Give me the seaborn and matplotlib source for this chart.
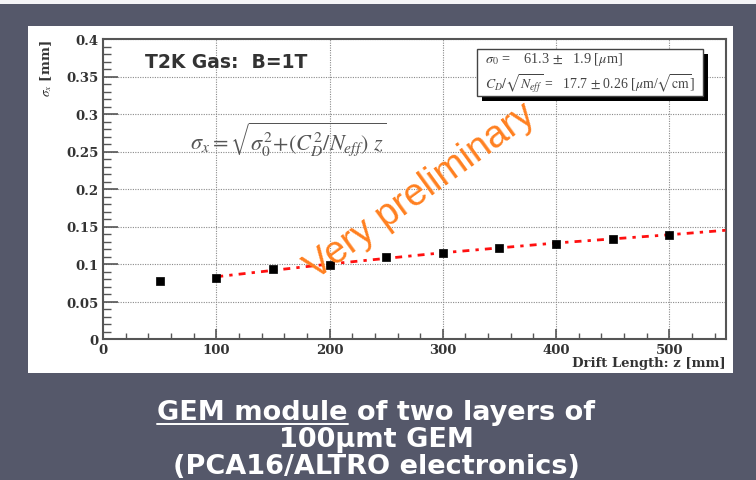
import matplotlib
matplotlib.use("Agg")
import matplotlib.pyplot as plt
from matplotlib.patches import Rectangle
from matplotlib.lines import Line2D
from matplotlib.ticker import MultipleLocator
import seaborn as sns
import pandas as pd

# ---- data ----
drift_z = [50, 100, 150, 200, 250, 300, 350, 400, 450, 500]
sigma_x = [0.077, 0.082, 0.093, 0.099, 0.109, 0.1143, 0.1213, 0.1267, 0.133, 0.139]
fit_z = [100, 200, 300, 400, 500, 550]
fit_sigma = [0.083, 0.100, 0.115, 0.128, 0.139, 0.145]
x_ticks = [0, 100, 200, 300, 400, 500]
y_ticks = [0, 0.05, 0.1, 0.15, 0.2, 0.25, 0.3, 0.35, 0.4]
y_tick_labels = ["0", "0.05", "0.1", "0.15", "0.2", "0.25", "0.3", "0.35", "0.4"]

pts = pd.DataFrame({"z": drift_z, "sigma": sigma_x})
fit = pd.DataFrame({"z": fit_z, "sigma": fit_sigma})

sns.set_theme(style="ticks")
plt.rcParams["mathtext.fontset"] = "stix"
plt.rcParams["font.family"] = ["DejaVu Sans"]

W, H = 756, 481
BG = "#55586a"
fig = plt.figure(figsize=(W / 100, H / 100), dpi=100, facecolor=BG)

def fx(px):
    return px / W

def fy(py):
    return 1 - py / H

# top light strip and white panel
fig.patches.append(Rectangle((0, fy(5)), 1, 5 / H, transform=fig.transFigure,
                             facecolor="#f4f4f6", edgecolor="none", zorder=0))
fig.patches.append(Rectangle((fx(28), fy(374)), (733 - 28) / W, (374 - 27) / H,
                             transform=fig.transFigure, facecolor="white",
                             edgecolor="none", zorder=0))

ax = fig.add_axes([fx(103), fy(340), (726 - 103) / W, 300 / H])
ax.set_facecolor("white")
ax.set_zorder(1)

sns.lineplot(data=fit, x="z", y="sigma", ax=ax, color="#ff1010", lw=2.0,
             linestyle=(0, (2.5, 2.2, 1.2, 2.2)), zorder=3)
sns.scatterplot(data=pts, x="z", y="sigma", ax=ax, marker="s", s=30,
                color="black", edgecolor="black", linewidth=0.5, zorder=4)

ax.set_xlim(0, 550)
ax.set_ylim(0, 0.4)
ax.set_xticks(x_ticks)
ax.set_xticklabels([str(v) for v in x_ticks])
ax.set_yticks(y_ticks)
ax.set_yticklabels(y_tick_labels)
ax.xaxis.set_minor_locator(MultipleLocator(20))
ax.yaxis.set_minor_locator(MultipleLocator(0.01))

for lab in ax.get_xticklabels() + ax.get_yticklabels():
    lab.set_fontfamily("DejaVu Serif")
    lab.set_fontweight("bold")
    lab.set_fontsize(9.5)
    lab.set_color("#333333")

ax.tick_params(axis="y", which="major", direction="in", length=11, width=1.2,
               color="#555555", pad=3)
ax.tick_params(axis="y", which="minor", direction="in", length=6, width=1.0,
               color="#555555")
ax.tick_params(axis="x", which="major", direction="in", length=7, width=1.2,
               color="#555555", pad=3)
ax.tick_params(axis="x", which="minor", direction="in", length=4, width=1.0,
               color="#555555")
for s in ax.spines.values():
    s.set_visible(True)
    s.set_color("#555555")
    s.set_linewidth(1.5)

ax.grid(True, which="major", color="#8a8a8a", linestyle=(0, (1, 1.2)), lw=0.8)
ax.set_axisbelow(True)

ax.set_xlabel("Drift Length: z [mm]", fontfamily="DejaVu Serif", fontweight="bold",
              fontsize=9.5, color="#333333")
ax.xaxis.set_label_coords(1.0, -0.057)
ax.xaxis.label.set_horizontalalignment("right")
ax.xaxis.label.set_verticalalignment("top")
ax.set_ylabel(r"$\sigma_x$ [mm]", fontfamily="DejaVu Serif", fontweight="bold",
              fontsize=9.5, color="#333333")
ax.yaxis.set_label_coords(-0.078, 1.0)
ax.yaxis.label.set_horizontalalignment("right")

# annotations
fig.text(fx(145), fy(62), "T2K Gas:  B=1T", fontfamily="DejaVu Sans",
         fontweight="bold", fontsize=13.5, color="#333333", va="center", ha="left",
         zorder=5)

fig.text(fx(190), fy(140),
         r"$\sigma_{x} = \sqrt{\sigma_0^2\!+\!(C_D^2/N_{eff})\ z}$",
         fontsize=16, color="#555555", va="center", ha="left", zorder=5)

# stats box with shadow
fig.patches.append(Rectangle((fx(482), fy(102)), (708 - 482) / W, (102 - 55) / H,
                             transform=fig.transFigure, facecolor="black",
                             edgecolor="none", zorder=5))
fig.patches.append(Rectangle((fx(477), fy(97)), (703 - 477) / W, (97 - 50) / H,
                             transform=fig.transFigure, facecolor="white",
                             edgecolor="#444444", lw=1.0, zorder=6))
fig.text(fx(485), fy(60), r"$\sigma_0$ =    61.3 $\pm$   1.9 [$\mu$m]",
         fontfamily="Liberation Serif", fontsize=10.3, color="#444444",
         va="center", ha="left", zorder=7)
fig.text(fx(485), fy(84),
         r"$C_D/\sqrt{N_{eff}}$ =   17.7 $\pm$ 0.26 [$\mu$m/$\sqrt{\rm cm}$]",
         fontfamily="Liberation Serif", fontsize=9.9, color="#444444",
         va="center", ha="left", zorder=7)

fig.text(fx(420), fy(192), "Very preliminary", fontfamily="Liberation Sans",
         fontsize=27.5, color="#ff8020", rotation=36, rotation_mode="anchor",
         ha="center", va="center", zorder=5)

# caption on dark background
cap_kw = dict(fontfamily="DejaVu Sans", fontweight="bold", fontsize=19.5,
              color="white", ha="center", va="baseline")
cap_x = fx(376)
t1 = fig.text(cap_x, fy(420), "GEM module of two layers of", **cap_kw)
fig.text(cap_x, fy(447), "100\u00b5mt GEM", **cap_kw)
fig.text(cap_x, fy(474), "(PCA16/ALTRO electronics)", **cap_kw)

fig.canvas.draw()
r = fig.canvas.get_renderer()
bb = t1.get_window_extent(r)
tmp_full = fig.text(0.5, 0.5, "GEM module of two layers of", **cap_kw)
tmp_part = fig.text(0.5, 0.5, "GEM module", **cap_kw)
ratio = tmp_part.get_window_extent(r).width / tmp_full.get_window_extent(r).width
tmp_full.remove()
tmp_part.remove()
x0 = bb.x0 / fig.bbox.width
x1 = (bb.x0 + bb.width * ratio) / fig.bbox.width
fig.lines.append(Line2D([x0, x1], [fy(425), fy(425)],
                        transform=fig.transFigure, color="white", lw=1.4))

fig.savefig("out.png", dpi=100, facecolor=BG)
